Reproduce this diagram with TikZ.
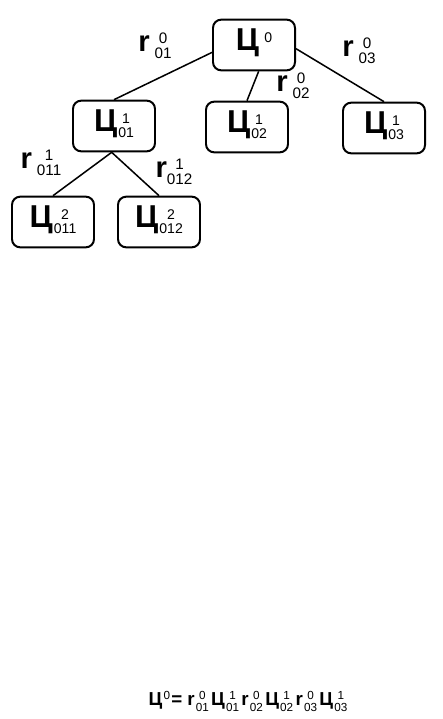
\documentclass[tikz,border=0pt]{standalone}
\usepackage{fontspec}
\setmainfont{Liberation Sans}
\usepackage{tikz}
\usetikzlibrary{positioning}

% stacked upper and lower index
\newcommand\ix[3][12]{{\fontsize{#1}{#1}\mdseries\selectfont
  \renewcommand\arraystretch{1}%
  \begin{tabular}[c]{@{}c@{}}#2\\#3\end{tabular}}}

\begin{document}
\begin{tikzpicture}[
  x=0.03cm, y=-0.03cm,
  cikl/.style={draw, line width=1.7pt, rounded corners=7pt,
    minimum width=2.46cm, minimum height=1.52cm, inner sep=0pt,
    font=\fontsize{27}{27}\bfseries},
  rlab/.style={inner sep=0pt, font=\fontsize{25}{25}\bfseries},
  vetv/.style={line width=1.3pt},
  formula/.style={inner sep=0pt, font=\fontsize{16}{16}\bfseries}
]
  \useasboundingbox (0,0) rectangle (443,719);
  \node[cikl] (c0)   at (254,45)  {Ц\,\ix{0}{\phantom{0}}};
  \node[cikl] (c01)  at (114,126) {Ц\kern1pt\ix{1}{01}};
  \node[cikl] (c02)  at (247,127) {Ц\kern1pt\ix{1}{02}};
  \node[cikl] (c03)  at (384,128) {Ц\kern1pt\ix{1}{03}};
  \node[cikl] (c011) at (53,222)  {Ц\kern1pt\ix{2}{011}};
  \node[cikl] (c012) at (159,222) {Ц\kern1pt\ix{2}{012}};
  \draw[vetv] (c0.190) -- (c01.north) (c0.280) -- (c02.north)
    (c0.355) -- (c03.north);
  \draw[vetv] (c01.265) -- (c011.north) (c01.265) -- (c012.north);
  \node[rlab] (r01)  at (155,48)  {r\,\ix[13]{0}{01}};
  \node[rlab] (r02)  at (293,88)  {r\,\ix[13]{0}{02}};
  \node[rlab] (r03)  at (359,53)  {r\,\ix[13]{0}{03}};
  \node[rlab] (r011) at (41,165)  {r\,\ix[13]{1}{011}};
  \node[rlab] (r012) at (174,174) {r\ix[13]{1}{012}};
  \node[formula] (eq) at (248,703)
    {Ц\kern1pt\ix[10]{0}{\phantom{0}}\kern1pt= r\kern1pt\ix[10]{0}{01}\kern2pt Ц\kern1pt\ix[10]{1}{01}\kern2pt r\kern1pt\ix[10]{0}{02}\kern2pt Ц\kern1pt\ix[10]{1}{02}\kern2pt r\kern1pt\ix[10]{0}{03}\kern2pt Ц\kern1pt\ix[10]{1}{03}};
\end{tikzpicture}
\end{document}
